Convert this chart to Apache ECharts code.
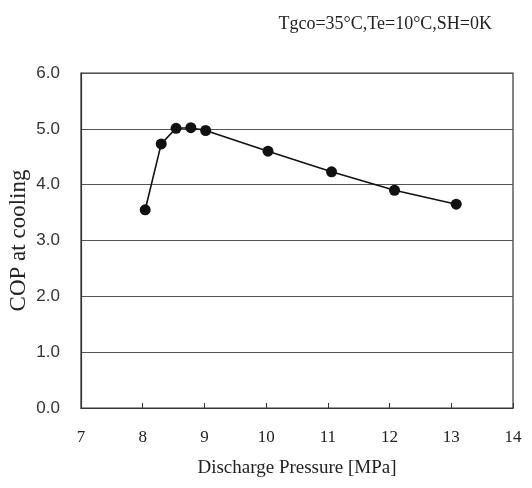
<!DOCTYPE html>
<html>
<head>
<meta charset="utf-8">
<script src="https://cdn.jsdelivr.net/npm/echarts@6/dist/echarts.min.js"></script>
<style>
  html, body { margin: 0; padding: 0; background: #fff; }
  #chart { width: 532px; height: 488px; }
</style>
</head>
<body>
<div id="chart"></div>
<script>
// discharge pressure [MPa] and COP
var pressure = [8.04, 8.3, 8.54, 8.78, 9.02, 10.03, 11.06, 12.08, 13.08];
var cop = [3.55, 4.73, 5.01, 5.02, 4.97, 4.60, 4.23, 3.90, 3.65];
var condition = 'Tgco=35°C,Te=10°C,SH=0K';

var serif = '"Liberation Serif", "DejaVu Serif", serif';
var sans = '"Liberation Sans", Arial, sans-serif';
var points = pressure.map(function (p, i) { return [p, cop[i]]; });

var myChart = echarts.init(document.getElementById('chart'));
var option = {
    animation: false,
    title: {
        text: condition,
        right: 35,
        top: 10,
        textStyle: { fontFamily: serif, fontSize: 18, fontWeight: 'normal', color: '#222' }
    },
    grid: {
        left: 81, right: 19, top: 73, bottom: 80,
        outerBoundsMode: 'none', containLabel: false,
        show: true, borderColor: '#333', borderWidth: 1.2
    },
    xAxis: {
        type: 'value',
        min: 7, max: 14, interval: 1,
        name: 'Discharge Pressure [MPa]',
        nameLocation: 'middle',
        nameGap: 51,
        nameMoveOverlap: false,
        nameTextStyle: { fontFamily: serif, fontSize: 19, color: '#222' },
        axisLine: { lineStyle: { color: '#333', width: 1.2 } },
        axisTick: { inside: true, length: 5, lineStyle: { color: '#333' } },
        axisLabel: { fontFamily: serif, fontSize: 17, color: '#222', margin: 21 },
        splitLine: { show: false }
    },
    yAxis: {
        type: 'value',
        min: 0, max: 6, interval: 1,
        name: 'COP at cooling',
        nameLocation: 'middle',
        nameGap: 51,
        nameMoveOverlap: false,
        nameTextStyle: { fontFamily: serif, fontSize: 23, color: '#222' },
        axisLine: { lineStyle: { color: '#333', width: 1.2 } },
        axisTick: { show: false },
        axisLabel: {
            fontFamily: sans, fontSize: 17, color: '#333', margin: 21,
            formatter: function (v) { return v.toFixed(1); }
        },
        splitLine: { lineStyle: { color: '#555', width: 1 } }
    },
    series: [{
        type: 'line',
        data: points,
        symbol: 'circle',
        symbolSize: 11,
        itemStyle: { color: '#111' },
        lineStyle: { color: '#111', width: 1.6 }
    }]
};
myChart.setOption(option);
</script>
</body>
</html>
